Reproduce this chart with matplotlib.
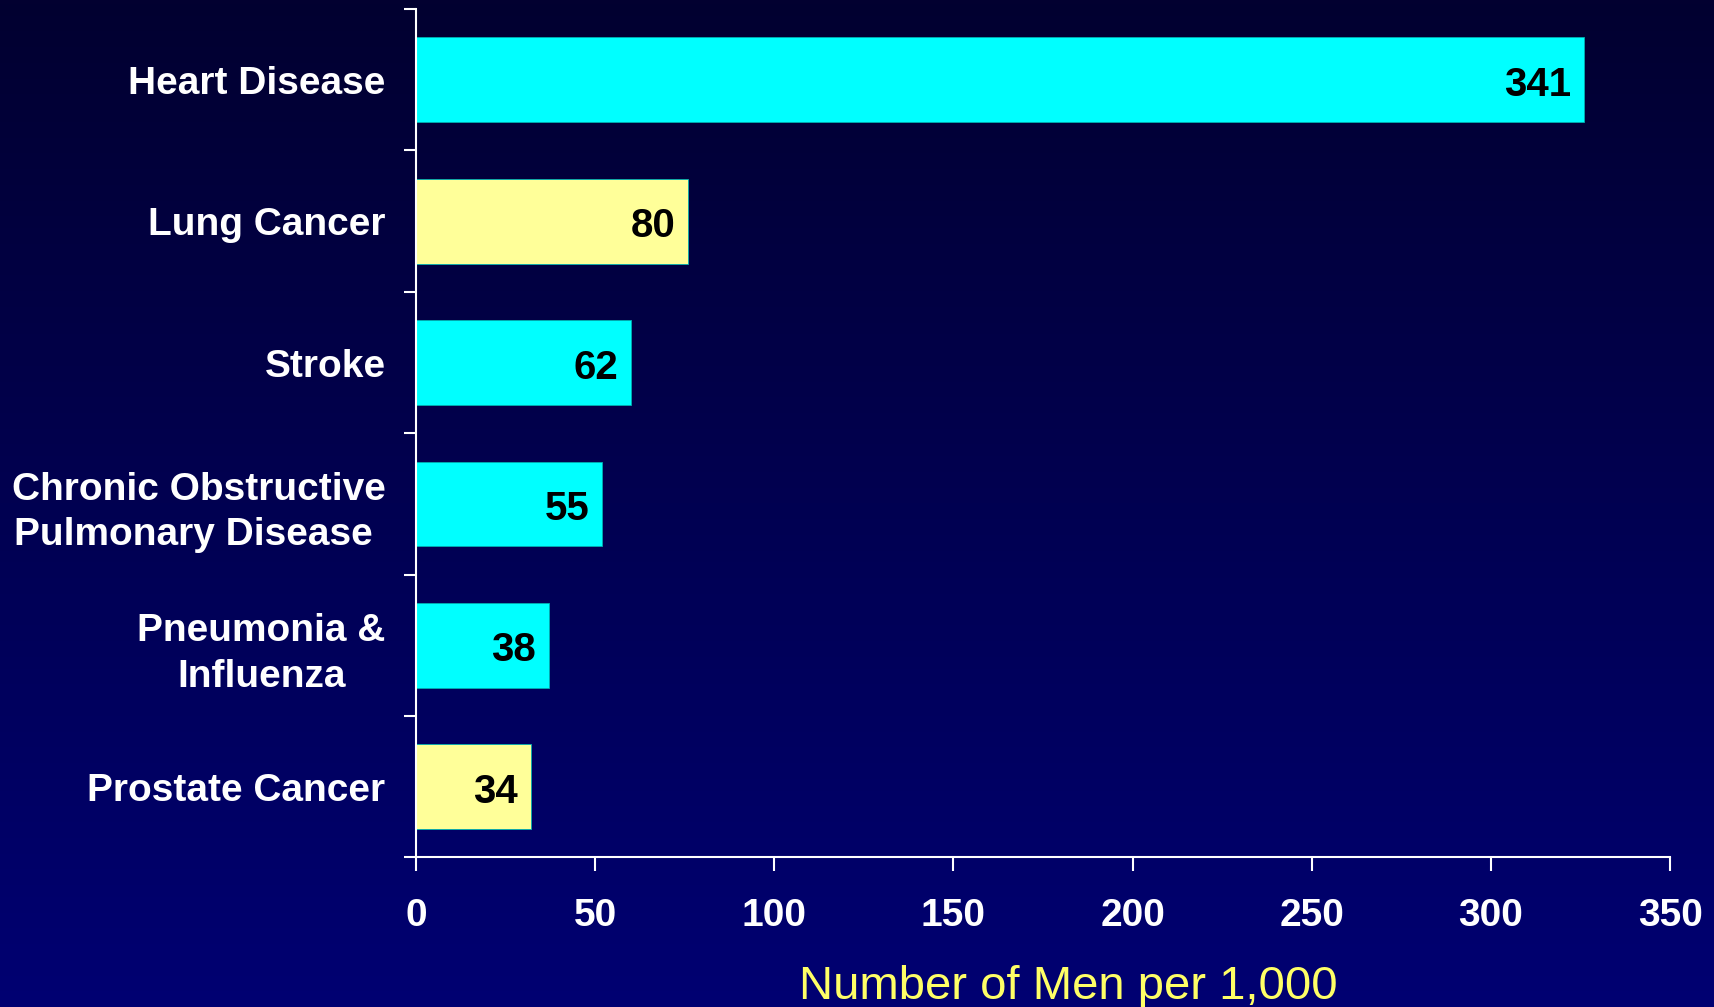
import matplotlib.pyplot as plt
import numpy as np

# Data (bar lengths; printed labels as shown on the chart)
causes = ['Heart Disease', 'Lung Cancer', 'Stroke',
          'Chronic Obstructive\nPulmonary Disease ', 'Pneumonia &\nInfluenza',
          'Prostate Cancer']
bar_lengths = [326, 76, 60, 52, 37, 32]
value_labels = ['341', '80', '62', '55', '38', '34']
bar_colors = ['#00FFFF', '#FFFF99', '#00FFFF', '#00FFFF', '#00FFFF', '#FFFF99']
x_ticks = [0, 50, 100, 150, 200, 250, 300, 350]

plt.rcParams['font.family'] = ['Liberation Sans', 'DejaVu Sans']

fig = plt.figure(figsize=(17.15, 10.07), dpi=100)

# dark blue gradient background
bg = fig.add_axes([0, 0, 1, 1], zorder=-10)
grad = np.linspace(0, 1, 256).reshape(-1, 1)
top = np.array([0x02, 0x00, 0x30]) / 255
bottom = np.array([0x00, 0x00, 0x72]) / 255
img = top + grad[..., None] * (bottom - top)
bg.imshow(img, aspect='auto', extent=[0, 1, 0, 1], origin='upper')
bg.axis('off')

ax = fig.add_axes([0.2426, 0.1485, 0.7312, 0.8425])
ax.patch.set_alpha(0)

y = np.arange(len(causes))
bars = ax.barh(y, bar_lengths, height=0.6, color=bar_colors,
               edgecolor='#00B0B0', linewidth=0.6)
for b, lab in zip(bars, value_labels):
    ax.annotate(lab, (b.get_width(), b.get_y() + b.get_height() / 2),
                xytext=(-13, -5), textcoords='offset pixels',
                ha='right', va='center', fontsize=29, fontweight='bold',
                color='black')

ax.set_xlim(0, 350)
ax.set_ylim(len(causes) - 0.5, -0.5)

for s in ['top', 'right']:
    ax.spines[s].set_visible(False)
for s in ['left', 'bottom']:
    ax.spines[s].set_color('white')
    ax.spines[s].set_linewidth(1.5)

ax.set_xticks(x_ticks)
ax.set_xticklabels([str(t) for t in x_ticks])
ax.tick_params(axis='x', colors='white', length=10, width=1.5, pad=19,
               labelsize=28)
for t in ax.get_xticklabels():
    t.set_fontweight('bold')

# ticks at category boundaries, labels at centres
ax.set_yticks(np.arange(-0.5, len(causes), 1))
ax.set_yticklabels([])
ax.tick_params(axis='y', which='major', colors='white', length=9, width=1.5)
ax.set_yticks(y, minor=True)
ax.set_yticklabels(causes, minor=True)
ax.tick_params(axis='y', which='minor', length=0, pad=22, labelsize=28,
               labelcolor='white')
for t in ax.get_yticklabels(minor=True):
    t.set_fontweight('bold')
    t.set_multialignment('center')
    t.set_linespacing(1.33)

ax.set_xlabel('Number of Men per 1,000', color='#FFFF66', fontsize=34,
              va='center')
ax.xaxis.set_label_coords(0.52, -0.153)

fig.savefig('out.png', dpi=100)
